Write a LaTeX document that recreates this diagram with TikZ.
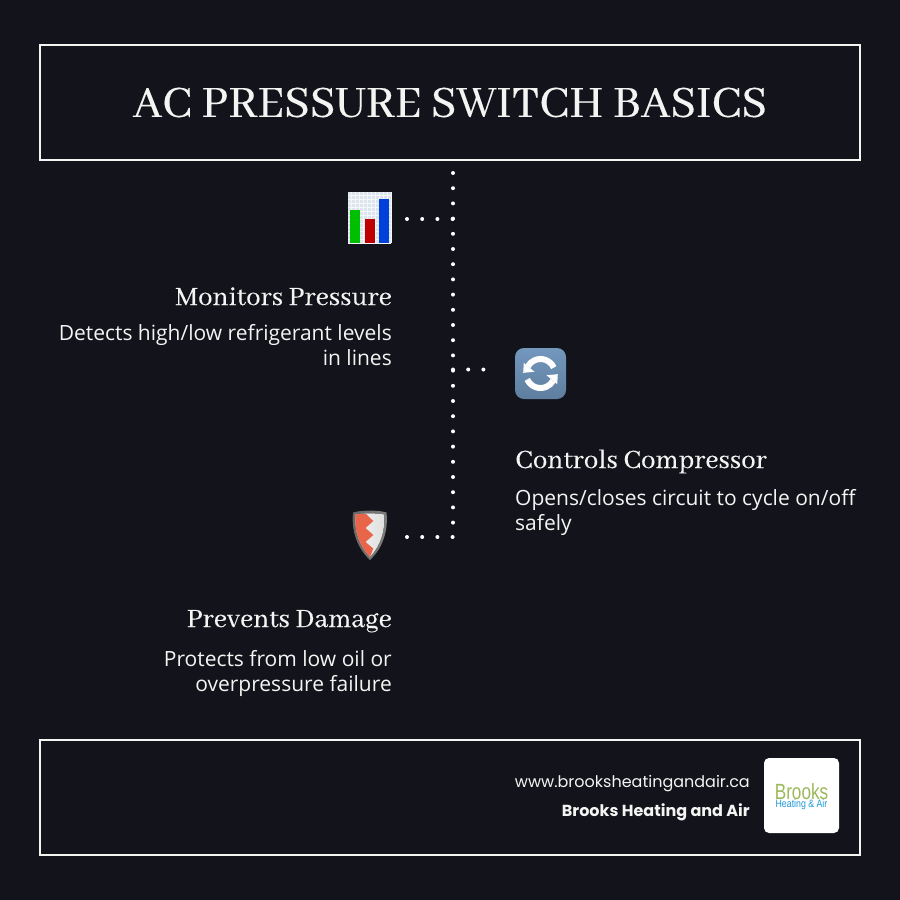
\documentclass[tikz,border=0pt]{standalone}
\usepackage{fontspec}
\setmainfont{Open Sans}
\newfontfamily\headfont[FakeBold=0.25]{Abhaya Libre}
\newfontfamily\footfont{Poppins}
\newfontfamily\logofont[FakeStretch=0.78]{Liberation Sans}
\newfontfamily\tradefont[FakeStretch=0.82]{Liberation Sans}
\definecolor{pagebg}{HTML}{12131B}
\definecolor{paper}{HTML}{F4F4F2}
\definecolor{cycletop}{HTML}{7398BE}
\definecolor{cyclelow}{HTML}{5E7E9E}
\definecolor{chartbg}{HTML}{DCE4EE}
\definecolor{shieldred}{HTML}{E8654A}
\definecolor{logogreen}{HTML}{9DB85A}
\definecolor{logoblue}{HTML}{1E9AD6}
\tikzset{%
	frame/.style={
		draw=paper,
		line width=2pt,
		fill=none,
		minimum width=820pt,
		minimum height=115pt,
		font=\headfont\fontsize{49}{50}\selectfont,
		text=paper
	},
	heading/.style={
		text=paper,
		inner sep=0pt,
		font=\headfont\fontsize{29}{29}\selectfont
	},
	body/.style={
		text=paper,
		inner sep=0pt,
		font=\fontsize{21}{25}\selectfont
	},
	body-left/.style={ body, align=left, anchor=north west },
	body-right/.style={ body, align=right, anchor=north east },
	footer/.style={
		text=paper,
		inner sep=0pt,
		anchor=base east,
		font=\footfont\fontsize{16}{16}\selectfont
	},
	dots/.style={
		draw=white,
		line width=4pt,
		line cap=round,
		dash pattern=on 0pt off 15.2pt
	},
	icon/.style={
		inner sep=0pt,
		minimum width=#1,
		minimum height=#1
	},
	logo-text/.style={
		inner sep=0pt,
		text depth=0pt,
		anchor=base
	},
	chart-grid/.style={
		draw=white!70!chartbg,
		line width=0.5pt
	},
}

\begin{document}
\begin{tikzpicture}[x=1pt, y=-1pt, >=stealth]
\useasboundingbox[fill=pagebg] (0,0) rectangle (900,900);

% frames
\node[frame] (title) at (450,102.5) {\raisebox{-2pt}{AC PRESSURE SWITCH BASICS}};
\node[frame] (footer) at (450,797.5) {};

% icons
\node[icon=43pt, minimum height=51pt, fill=chartbg] (chart) at (369.7,217.5) {};
\foreach \x in {351,355,...,391}
	\draw[chart-grid] (\x,192) -- (\x,243);
\foreach \y in {195,199,...,243}
	\draw[chart-grid] (348.2,\y) -- (391.2,\y);
\fill[green!75!black] (350.3,209.7) rectangle (360.3,243);
\fill[red!75!black] (364.7,218.7) rectangle (374.7,243);
\fill[blue!70!cyan!85!black] (379,198.7) rectangle (388.7,243);

\node[icon=51pt, rounded corners=9pt, top color=cycletop, bottom color=cyclelow] (cycle) at (540.5,373.5) {};
\begin{scope}[shift={(cycle.center)}]
\draw[white, line width=6pt] (-24:14.5) arc[start angle=-24, end angle=-150, radius=14.5];
\fill[white] (-16.7,-10.7) -- (-17.3,-0.7) -- (-6,-1.7) -- cycle;
\draw[white, line width=6pt] (156:14.5) arc[start angle=156, end angle=30, radius=14.5];
\fill[white] (16.7,10.7) -- (17.3,0.7) -- (6,1.7) -- cycle;
\end{scope}

\node[icon=35pt, minimum height=50pt] (shield) at (369.5,535) {};
\fill[left color=gray!80!black, right color=gray] (353,512.5) .. controls (360,510) and (380,510) .. (386.5,512.5) .. controls (388.5,532) and (382,549) .. (370,560) .. controls (358,549) and (351,532) .. (353,512.5) -- cycle;
\fill[left color=white!90!gray, right color=white!75!gray] (355.5,514.5) .. controls (362,513) and (378,513) .. (384,514.5) .. controls (385.5,532) and (380,546) .. (370,557) .. controls (360,546) and (354,532) .. (355.5,514.5) -- cycle;
\fill[shieldred] (355.5,514.5) .. controls (358,514) and (362,514) .. (366,514) -- (373.3,521) -- (365.5,528) -- (373.3,535) -- (365.5,542) -- (373.3,548.5) -- (370,557) .. controls (360,546) and (354,532) .. (355.5,514.5) -- cycle;

% dotted connectors
\coordinate (spine-top) at (453,173);
\coordinate (spine-bottom) at (453,537);
\coordinate (branch-chart) at (407,219);
\coordinate (spine-chart) at (453.5,219);
\coordinate (branch-cycle) at (498.5,369.5);
\coordinate (spine-cycle) at (453,369.5);
\coordinate (branch-shield) at (407,537);
\coordinate (spine-shield) at (453.5,537);
\draw[dots] (spine-top) -- (spine-bottom);
\draw[dots] (branch-chart) -- (spine-chart);
\draw[dots] (spine-cycle) -- (branch-cycle);
\draw[dots] (branch-shield) -- (spine-shield);

% texts
\node[heading, anchor=base east] (monitors) at (392,305) {Monitors Pressure};
\node[body-right] (monitors-text) at (392,324) {Detects high/low refrigerant levels\\in lines};
\node[heading, anchor=base west] (controls) at (515,468) {Controls Compressor};
\node[body-left] (controls-text) at (515,489.5) {Opens/closes circuit to cycle on/off\\safely};
\node[heading, anchor=base east] (prevents) at (392,627) {Prevents Damage};
\node[body-right] (prevents-text) at (392,650.5) {Protects from low oil or\\overpressure failure};

% footer
\node[footer] (website) at (750,787) {www.brooksheatingandair.ca};
\node[footer, font=\footfont\bfseries\fontsize{16}{16}\selectfont] (company) at (750,816) {Brooks Heating and Air};
\node[icon=75pt, fill=white, rounded corners=5pt] (logo) at (801.5,795.5) {};
\node[logo-text, text=logogreen, font=\logofont\fontsize{22}{22}\selectfont] (logo-name) at (801.5,799) {Brooks};
\node[logo-text, text=logoblue, text height=6pt, font=\tradefont\fontsize{10.7}{10.7}\selectfont] (logo-trade) at (801.5,807) {Heating \& Air};

\end{tikzpicture}
\end{document}
